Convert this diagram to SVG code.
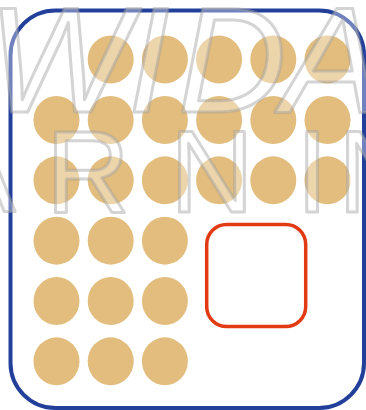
<svg xmlns="http://www.w3.org/2000/svg" width="366" height="410" viewBox="0 0 366 410">
<style>
.dot{fill:#E2BD7E}
.frame{fill:none;stroke:#22409A;stroke-width:4}
.box{fill:none;stroke:#E23A12;stroke-width:3.5}
.wm{fill:#FFFFFF;fill-opacity:0.35;stroke:#A0A0A0;stroke-opacity:0.45;stroke-width:3;stroke-linejoin:round;font-family:"Liberation Sans",Arial,sans-serif}
</style>
<rect width="366" height="410" fill="#FFFFFF"/>
<g id="frame"><rect class="frame" x="10.5" y="10.5" width="353.5" height="397.5" rx="45"/></g>
<g id="dots">
<g id="row1">
<ellipse class="dot" cx="110.7" cy="59.5" rx="23" ry="24"/>
<ellipse class="dot" cx="164.9" cy="59.5" rx="23" ry="24"/>
<ellipse class="dot" cx="219.1" cy="59.5" rx="23" ry="24"/>
<ellipse class="dot" cx="273.3" cy="59.5" rx="23" ry="24"/>
<ellipse class="dot" cx="327.5" cy="59.5" rx="23" ry="24"/>
</g>
<g id="row2">
<ellipse class="dot" cx="56.5" cy="120" rx="23" ry="24"/>
<ellipse class="dot" cx="110.7" cy="120" rx="23" ry="24"/>
<ellipse class="dot" cx="164.9" cy="120" rx="23" ry="24"/>
<ellipse class="dot" cx="219.1" cy="120" rx="23" ry="24"/>
<ellipse class="dot" cx="273.3" cy="120" rx="23" ry="24"/>
<ellipse class="dot" cx="327.5" cy="120" rx="23" ry="24"/>
</g>
<g id="row3">
<ellipse class="dot" cx="56.5" cy="180.3" rx="23" ry="24"/>
<ellipse class="dot" cx="110.7" cy="180.3" rx="23" ry="24"/>
<ellipse class="dot" cx="164.9" cy="180.3" rx="23" ry="24"/>
<ellipse class="dot" cx="219.1" cy="180.3" rx="23" ry="24"/>
<ellipse class="dot" cx="273.3" cy="180.3" rx="23" ry="24"/>
<ellipse class="dot" cx="327.5" cy="180.3" rx="23" ry="24"/>
</g>
<g id="row4">
<ellipse class="dot" cx="56.5" cy="240.7" rx="23" ry="24"/>
<ellipse class="dot" cx="110.7" cy="240.7" rx="23" ry="24"/>
<ellipse class="dot" cx="164.9" cy="240.7" rx="23" ry="24"/>
</g>
<g id="row5">
<ellipse class="dot" cx="56.5" cy="301" rx="23" ry="24"/>
<ellipse class="dot" cx="110.7" cy="301" rx="23" ry="24"/>
<ellipse class="dot" cx="164.9" cy="301" rx="23" ry="24"/>
</g>
<g id="row6">
<ellipse class="dot" cx="56.5" cy="361.3" rx="23" ry="24"/>
<ellipse class="dot" cx="110.7" cy="361.3" rx="23" ry="24"/>
<ellipse class="dot" cx="164.9" cy="361.3" rx="23" ry="24"/>
</g>
</g>
<g id="box"><rect class="box" x="206.7" y="224.5" width="99" height="102" rx="20"/></g>
<g id="connectors"/>
<g id="watermark">
<text class="wm" font-size="150" font-style="italic" x="-12 128 178 282" y="112">WIDA</text>
<text class="wm" font-size="116" x="-62 46 170 296 338" y="212">ARNIN</text>
</g>
</svg>
